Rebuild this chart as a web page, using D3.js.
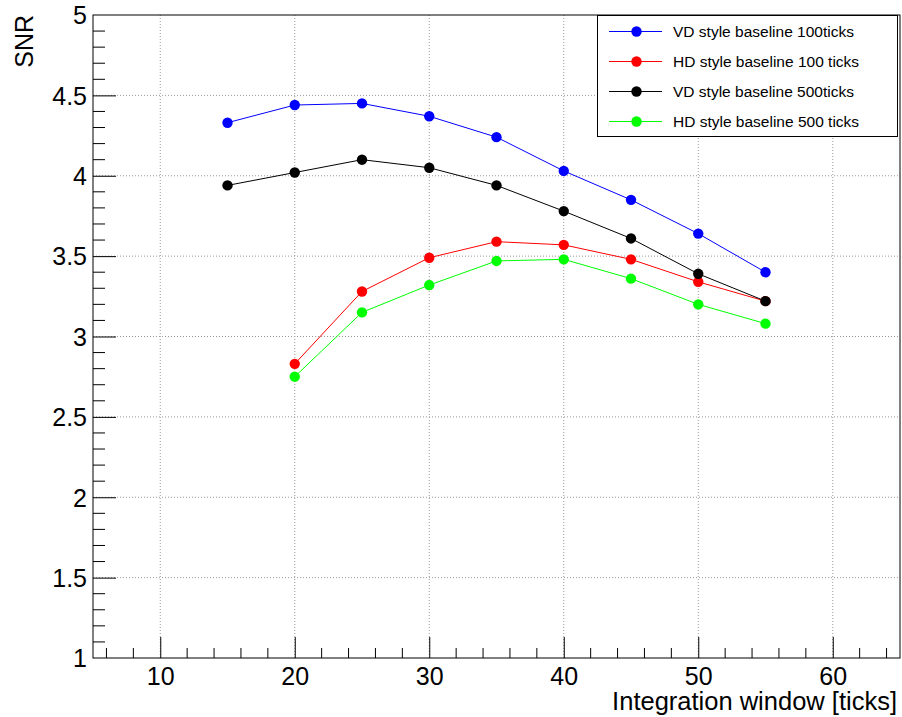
<!DOCTYPE html>
<html><head><meta charset="utf-8">
<script src="https://cdn.jsdelivr.net/npm/d3@7"></script>
<style>
body{margin:0;background:#fff;}
svg{display:block;font-family:"Liberation Sans",Arial,Helvetica,sans-serif;}
</style></head>
<body>
<svg id="chart" width="902" height="717"></svg>
<script>
const xValues = [15, 20, 25, 30, 35, 40, 45, 50, 55];
const vd100 = [4.33, 4.44, 4.45, 4.37, 4.24, 4.03, 3.85, 3.64, 3.40];
const hd100 = [null, 2.83, 3.28, 3.49, 3.59, 3.57, 3.48, 3.34, 3.22];
const vd500 = [3.94, 4.02, 4.10, 4.05, 3.94, 3.78, 3.61, 3.39, 3.22];
const hd500 = [null, 2.75, 3.15, 3.32, 3.47, 3.48, 3.36, 3.20, 3.08];
const seriesNames = ["VD style baseline 100ticks", "HD style baseline 100 ticks", "VD style baseline 500ticks", "HD style baseline 500 ticks"];
const seriesColors = ["#0000ff", "#ff0000", "#000000", "#00ff00"];
const xTicks = [10, 20, 30, 40, 50, 60];
const yTicks = [1, 1.5, 2, 2.5, 3, 3.5, 4, 4.5, 5];
const xTitle = "Integration window [ticks]";
const yTitle = "SNR";

const series = [vd100, hd100, vd500, hd500].map((vals, i) => ({
  name: seriesNames[i], color: seriesColors[i],
  points: xValues.map((x, j) => ({x, y: vals[j]})).filter(p => p.y != null)
}));

const svg = d3.select("#chart");
const L = 93, R = 900, T = 15, B = 658;
const x = d3.scaleLinear().domain([5, 65]).range([L, R]);
const y = d3.scaleLinear().domain([1, 5]).range([B, T]);

// grid
const grid = svg.append("g");
grid.selectAll(".gx").data(xTicks).join("line")
  .attr("x1", d => x(d)).attr("x2", d => x(d)).attr("y1", T).attr("y2", B)
  .attr("stroke", "#999").attr("stroke-width", 1).attr("stroke-dasharray", "1,2");
grid.selectAll(".gy").data(yTicks.filter(d => d > 1 && d < 5)).join("line")
  .attr("x1", L).attr("x2", R).attr("y1", d => y(d)).attr("y2", d => y(d))
  .attr("stroke", "#999").attr("stroke-width", 1).attr("stroke-dasharray", "1,2");

// axes (ROOT style: ticks inside)
const xMinor = d3.range(6, 65.01, 2).filter(v => v % 10 !== 0);
const yMinor = d3.range(1, 5.001, 0.1).map(v => +v.toFixed(2)).filter(v => Math.abs(v*2 - Math.round(v*2)) > 1e-6);

const xAxis = svg.append("g").attr("transform", `translate(0,${B})`)
  .call(d3.axisBottom(x).tickValues(xTicks).tickSizeInner(-21).tickSizeOuter(0).tickFormat(d3.format("d")));
const yAxis = svg.append("g").attr("transform", `translate(${L},0)`)
  .call(d3.axisLeft(y).tickValues(yTicks).tickSizeInner(-23).tickSizeOuter(0).tickFormat(d => String(d)));
[xAxis, yAxis].forEach(a => {
  a.select(".domain").remove();
  a.selectAll(".tick line").attr("stroke", "#000").attr("stroke-width", 1);
  a.selectAll(".tick text").attr("fill", "#000").style("font-size", "25px")
   .style("font-family", '"Liberation Sans",Arial,sans-serif');
});
xAxis.selectAll(".tick text").attr("y", 27).attr("dy", "0");
yAxis.selectAll(".tick text").attr("x", -6).attr("dy", "0.35em");
yAxis.selectAll(".tick").filter(d => d === 1 || d === 5).select("line").remove();

svg.append("g").selectAll("line").data(xMinor).join("line")
  .attr("x1", d => x(d)).attr("x2", d => x(d)).attr("y1", B).attr("y2", B - 10)
  .attr("stroke", "#000");
svg.append("g").selectAll("line").data(yMinor).join("line")
  .attr("x1", L).attr("x2", L + 12).attr("y1", d => y(d)).attr("y2", d => y(d))
  .attr("stroke", "#000");

// frame
svg.append("rect").attr("x", L).attr("y", T).attr("width", R - L).attr("height", B - T)
  .attr("fill", "none").attr("stroke", "#000").attr("stroke-width", 1);

// titles
svg.append("text").attr("x", 897).attr("y", 710).attr("text-anchor", "end")
  .style("font-size", "25.5px").text(xTitle);
svg.append("text").attr("transform", "translate(33,15) rotate(-90)").attr("text-anchor", "end")
  .style("font-size", "25px").text(yTitle);

// series
const line = d3.line().x(d => x(d.x)).y(d => y(d.y));
series.forEach(s => {
  const g = svg.append("g");
  g.append("path").datum(s.points).attr("d", line).attr("fill", "none")
    .attr("stroke", s.color).attr("stroke-width", 1);
  g.selectAll("circle").data(s.points).join("circle")
    .attr("cx", d => x(d.x)).attr("cy", d => y(d.y)).attr("r", 5.2).attr("fill", s.color);
});

// legend
const lg = svg.append("g");
lg.append("rect").attr("x", 597.5).attr("y", 15.5).attr("width", 300).attr("height", 121)
  .attr("fill", "#fff").attr("stroke", "#000");
series.forEach((s, i) => {
  const cy = 31.5 + i * 30;
  lg.append("line").attr("x1", 609).attr("x2", 662).attr("y1", cy).attr("y2", cy)
    .attr("stroke", s.color);
  lg.append("circle").attr("cx", 636.5).attr("cy", cy).attr("r", 5.2).attr("fill", s.color);
  lg.append("text").attr("x", 673).attr("y", cy).attr("dy", "0.35em")
    .style("font-size", "15.5px").text(s.name);
});
</script>
</body></html>
